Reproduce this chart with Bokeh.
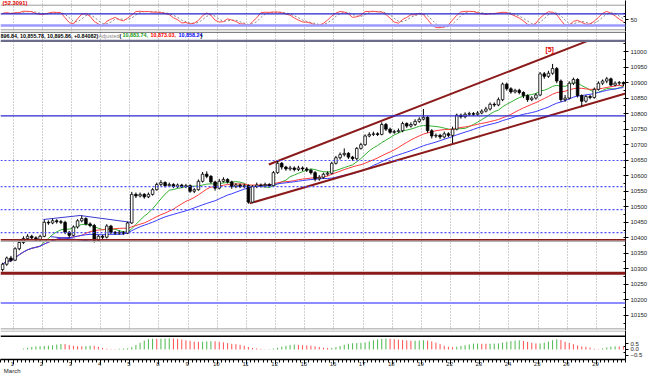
import numpy as np
import pandas as pd
from bokeh.plotting import figure
from bokeh.layouts import column
from bokeh.models import Range1d, FixedTicker, Span, Label, Grid, ColumnDataSource
from bokeh.embed import file_html
from bokeh.resources import INLINE

# ---------------- data ----------------
day_labels = ["1", "2", "3", "4", "5", "8", "9", "10", "11", "12", "15",
              "16", "17", "18", "19", "22", "23", "24", "25", "26", "29"]
month_label = "March"
pre_bars = 3          # last hourly bars of the previous session
bars_per_day = 7      # hourly bars per session

first_open = 10298.0
closes = [10315, 10335, 10328, 10365, 10385, 10398, 10405, 10400, 10395, 10405,
          10450, 10448, 10455, 10452, 10450, 10418, 10408, 10435, 10455, 10462,
          10445, 10440, 10392, 10405, 10402, 10438, 10418, 10415, 10418, 10415,
          10448, 10540, 10535, 10540, 10532, 10540, 10555, 10572, 10578, 10568,
          10572, 10565, 10570, 10565, 10568, 10550, 10555, 10582, 10605, 10598,
          10580, 10560, 10582, 10588, 10580, 10565, 10570, 10565, 10568, 10515,
          10565, 10570, 10568, 10572, 10568, 10610, 10640, 10628, 10622, 10625,
          10620, 10625, 10622, 10618, 10610, 10590, 10595, 10605, 10608, 10640,
          10658, 10668, 10672, 10660, 10655, 10688, 10700, 10728, 10733, 10735,
          10733, 10765, 10750, 10740, 10742, 10745, 10768, 10760, 10765, 10775,
          10782, 10788, 10745, 10728, 10730, 10725, 10735, 10730, 10750, 10795,
          10790, 10798, 10800, 10798, 10802, 10808, 10815, 10830, 10828, 10845,
          10895, 10880, 10870, 10875, 10868, 10858, 10845, 10850, 10860, 10928,
          10920, 10930, 10945, 10905, 10845, 10850, 10898, 10910, 10858, 10840,
          10855, 10852, 10878, 10898, 10905, 10912, 10892, 10898, 10900, 10895.86]
highs = [10320, 10340, 10342, 10370, 10392, 10405, 10412, 10410, 10405, 10410,
         10458, 10456, 10462, 10460, 10458, 10455, 10422, 10440, 10460, 10472,
         10466, 10450, 10445, 10410, 10410, 10444, 10442, 10422, 10424, 10422,
         10452, 10548, 10546, 10546, 10544, 10546, 10560, 10578, 10586, 10582,
         10578, 10576, 10575, 10574, 10574, 10572, 10560, 10588, 10612, 10614,
         10602, 10584, 10590, 10595, 10592, 10584, 10576, 10575, 10574, 10572,
         10570, 10578, 10575, 10578, 10576, 10615, 10648, 10644, 10632, 10632,
         10630, 10632, 10630, 10628, 10622, 10615, 10602, 10610, 10614, 10645,
         10664, 10675, 10688, 10676, 10664, 10692, 10706, 10733, 10740, 10742,
         10740, 10772, 10770, 10755, 10748, 10752, 10774, 10772, 10772, 10782,
         10788, 10815, 10792, 10750, 10736, 10735, 10742, 10740, 10758, 10800,
         10800, 10804, 10806, 10805, 10808, 10814, 10822, 10836, 10836, 10852,
         10900, 10900, 10885, 10880, 10880, 10872, 10862, 10856, 10866, 10934,
         10934, 10938, 10960, 10950, 10910, 10860, 10904, 10916, 10914, 10862,
         10860, 10860, 10884, 10904, 10910, 10918, 10916, 10904, 10905, 10904]
lows = [10292, 10310, 10322, 10325, 10360, 10380, 10395, 10395, 10390, 10390,
        10402, 10442, 10444, 10446, 10444, 10412, 10400, 10405, 10430, 10450,
        10440, 10434, 10385, 10388, 10396, 10398, 10412, 10410, 10410, 10410,
        10412, 10445, 10528, 10530, 10526, 10528, 10536, 10552, 10566, 10562,
        10564, 10560, 10560, 10560, 10560, 10545, 10544, 10552, 10578, 10592,
        10575, 10552, 10556, 10578, 10575, 10558, 10560, 10560, 10560, 10510,
        10512, 10560, 10562, 10562, 10562, 10565, 10606, 10620, 10616, 10616,
        10614, 10615, 10615, 10612, 10604, 10582, 10584, 10590, 10600, 10604,
        10636, 10652, 10662, 10654, 10648, 10650, 10684, 10696, 10724, 10728,
        10728, 10730, 10744, 10735, 10735, 10738, 10740, 10754, 10755, 10760,
        10770, 10778, 10738, 10720, 10722, 10718, 10720, 10724, 10705, 10746,
        10784, 10785, 10792, 10792, 10793, 10798, 10804, 10810, 10822, 10824,
        10840, 10874, 10864, 10865, 10862, 10850, 10838, 10840, 10845, 10856,
        10912, 10915, 10925, 10898, 10838, 10838, 10846, 10892, 10852, 10823,
        10835, 10846, 10848, 10874, 10892, 10898, 10888, 10888, 10892, 10888]

ma_periods = (10, 20, 30)
stoch_period = 5
header_values = "896.84, 10,855.78, 10,895.86, +0.84082)"
ma_end_texts = ("10,883.74,", "10,873.03,", "10,858.24")
osc_value_text = "(52.3091)"

price_ticks = list(range(10150, 11001, 50))
price_minor = list(range(10125, 11026, 25))
osc_levels = (80, 20)
level_solid = [10793]
level_dotted = [10649, 10565, 10491, 10417]
level_red_thin = [10394]
level_red_thick = [10286]
level_light = [10190]
channel_upper = ([64.4, 141.1], [10636, 11035])
channel_lower = ([59.8, 150.0], [10511, 10865])
wedge_upper = ([10.3, 19.1, 31.8], [10459, 10472, 10449])
wedge_lower = ([12.0, 22.7], [10404, 10388])
wave_label = (131.8, 11006, "[5]")

# ---------------- derived ----------------
n = len(closes)
xs = np.arange(n) + 0.5
opens = [first_open] + closes[:-1]
c = pd.Series(closes, dtype=float)
h = pd.Series(highs, dtype=float)
l = pd.Series(lows, dtype=float)
o = pd.Series(opens, dtype=float)

mas = [c.rolling(k, min_periods=1).mean() for k in ma_periods]

# slow stochastic
ll = l.rolling(stoch_period, min_periods=1).min()
hh = h.rolling(stoch_period, min_periods=1).max()
k_raw = ((c - ll) / (hh - ll) * 100).fillna(50.0)
stoch_k = k_raw.rolling(3, min_periods=1).mean()
stoch_d = stoch_k.rolling(3, min_periods=1).mean()

# Elliott wave oscillator (5/35 of mid price), percent
mid = (h + l) / 2
slow = mid.rolling(35, min_periods=1).mean()
ewo = (mid.rolling(5, min_periods=1).mean() - slow) / slow * 100
ewo_up = ewo.diff().fillna(0) >= 0

day_bounds = [pre_bars + bars_per_day * d for d in range(len(day_labels))]

# ---------------- layout ----------------
W = 650
FW = 627
RB = W - FW
FONT = "Liberation Sans"
xr = Range1d(0, n)


def make(height, yr, xloc=None, bottom=0):
    p = figure(width=W, height=height, x_range=xr, y_range=yr,
               output_backend="svg", toolbar_location=None,
               x_axis_location=xloc, y_axis_location="right",
               min_border_left=0, min_border_right=RB,
               min_border_top=0, min_border_bottom=bottom,
               background_fill_color="white", border_fill_color="white",
               outline_line_color=None)
    p.xgrid.visible = False
    p.ygrid.visible = False
    ax = p.yaxis[0]
    ax.axis_line_color = "black"
    ax.major_tick_out = 3
    ax.major_tick_in = 0
    ax.minor_tick_out = 0
    ax.minor_tick_in = 2
    ax.major_label_standoff = 2
    ax.major_label_text_font = FONT
    ax.major_label_text_font_size = "6px"
    ax.major_label_text_color = "#222222"
    return p


def day_grid(p):
    p.add_layout(Grid(dimension=0, ticker=FixedTicker(ticks=day_bounds),
                      grid_line_color="#a0a0a0", grid_line_dash="1 2"))


# ---- oscillator (stochastic) ----
pa = make(31, Range1d(-10.8, 148.2))
pa.yaxis[0].ticker = FixedTicker(ticks=[50], minor_ticks=[20, 35, 65, 80])
day_grid(pa)
pa.add_layout(Span(location=124.1, dimension="width", line_color="#9a9a9a", line_width=1))
pa.add_layout(Span(location=-2.0, dimension="width", line_color="#9a9a9a", line_width=1))
pa.add_layout(Span(location=osc_levels[0], dimension="width", line_color="#2222cc", line_width=1.2))
pa.add_layout(Span(location=osc_levels[1], dimension="width", line_color="#9a9aff", line_width=2.5))
pa.line(xs, stoch_d, line_color="#8a8a8a", line_dash="2 2", line_width=1)
pa.line(xs, stoch_k, line_color="#ff4a4a", line_width=1)
pa.add_layout(Label(x=2, y=32, x_units="screen", y_units="screen", text=osc_value_text,
                    text_baseline="top", text_font=FONT, text_font_size="5.8px",
                    text_font_style="bold", text_color="#e00000"))

# ---- price ----
pb = make(299, Range1d(10101.7, 11064.4))
pb.yaxis[0].ticker = FixedTicker(ticks=price_ticks, minor_ticks=price_minor)
day_grid(pb)
pb.add_layout(Span(location=11062, dimension="width", line_color="#555555", line_width=1))
pb.add_layout(Span(location=11034.5, dimension="width", line_color="#6c6c8c", line_width=2.2))
pb.add_layout(Span(location=10107, dimension="width", line_color="#a0a0a0", line_width=1))
for lv in level_solid:
    pb.add_layout(Span(location=lv, dimension="width", line_color="#2a2ad0", line_width=1.2))
for lv in level_dotted:
    pb.add_layout(Span(location=lv, dimension="width", line_color="#4a4aff",
                       line_width=1.2, line_dash="2 2"))
for lv in level_red_thin:
    pb.add_layout(Span(location=lv - 5, dimension="width", line_color="#b0b0b0", line_width=1.5))
    pb.add_layout(Span(location=lv, dimension="width", line_color="#8b1a1a", line_width=1.5))
for lv in level_red_thick:
    pb.add_layout(Span(location=lv, dimension="width", line_color="#8b1a1a", line_width=3))
for lv in level_light:
    pb.add_layout(Span(location=lv, dimension="width", line_color="#8c8cff", line_width=2))

ma_colors = ["#33b033", "#ff3a3a", "#3a3aff"]
for m, col in zip(mas, ma_colors):
    pb.line(xs, m, line_color=col, line_width=1)

pb.line(*channel_upper, line_color="#8b1a1a", line_width=2)
pb.line(*channel_lower, line_color="#8b1a1a", line_width=2)
pb.line(*wedge_upper, line_color="#3a3ad0", line_width=1)
pb.line(*wedge_lower, line_color="#3a3ad0", line_width=1)

up = (c >= o).values
src = ColumnDataSource(dict(x=xs, top=np.maximum(o, c), bottom=np.minimum(o, c),
                            high=h, low=l,
                            fill=np.where(up, "white", "black")))
pb.segment("x", "high", "x", "low", source=src, line_color="black", line_width=1)
pb.vbar(x="x", width=0.62, top="top", bottom="bottom", source=src,
        fill_color="fill", line_color="black", line_width=0.8)

pb.text(x=[wave_label[0]], y=[wave_label[1]], text=[wave_label[2]],
        text_color="#e00000", text_font_size="7px", text_align="center",
        text_baseline="middle", text_font_style="bold")

hdr = [(0, header_values, "#000000", "bold"),
       (98, "Adjusted", "#8a8a8a", "normal"),
       (119, "(", "#000000", "bold"),
       (122, ma_end_texts[0], "#1a9a1a", "bold"),
       (150, ma_end_texts[1], "#ff0000", "bold"),
       (178, ma_end_texts[2], "#0000ff", "bold"),
       (200, ")", "#000000", "bold")]
for hx, t, col, st in hdr:
    pb.add_layout(Label(x=hx, y=297.5, x_units="screen", y_units="screen", text=t,
                        text_baseline="top", text_font=FONT, text_font_size="5.4px",
                        text_font_style=st, text_color=col))

# ---- Elliott wave oscillator histogram + date axis ----
pc = make(46, Range1d(-0.909, 1.727), xloc="below", bottom=17)
pc.yaxis[0].ticker = FixedTicker(ticks=[-0.5, 0, 0.5], minor_ticks=[-0.25, 0.25])
pc.yaxis[0].major_label_overrides = {0: "0.0"}
pc.add_layout(Span(location=1.68, dimension="width", line_color="#a0a0a0", line_width=1))
pc.add_layout(Span(location=1.21, dimension="width", line_color="black", line_width=1.5))
hsrc = ColumnDataSource(dict(x=xs, y0=np.zeros(n), y1=ewo.values,
                             col=np.where(ewo_up.values, "#4cb84c", "#ff5050")))
pc.segment("x", "y0", "x", "y1", source=hsrc, line_color="col", line_width=1)

xa = pc.xaxis[0]
xa.ticker = FixedTicker(ticks=day_bounds, minor_ticks=list(range(0, n + 1)))
overrides = {b: " " + lab for b, lab in zip(day_bounds, day_labels)}
overrides[day_bounds[0]] = " " + day_labels[0] + "\n " + month_label
xa.major_label_overrides = overrides
xa.major_label_text_align = "left"
xa.major_label_standoff = -4
xa.major_tick_out = 5
xa.major_tick_in = 0
xa.minor_tick_out = 3
xa.minor_tick_in = 0
xa.axis_line_width = 1.5
xa.major_label_text_font = FONT
xa.major_label_text_font_size = "6px"
xa.major_label_text_color = "#222222"

layout = column(pa, pb, pc, spacing=0)
open("out.html", "w").write(file_html(layout, INLINE))
